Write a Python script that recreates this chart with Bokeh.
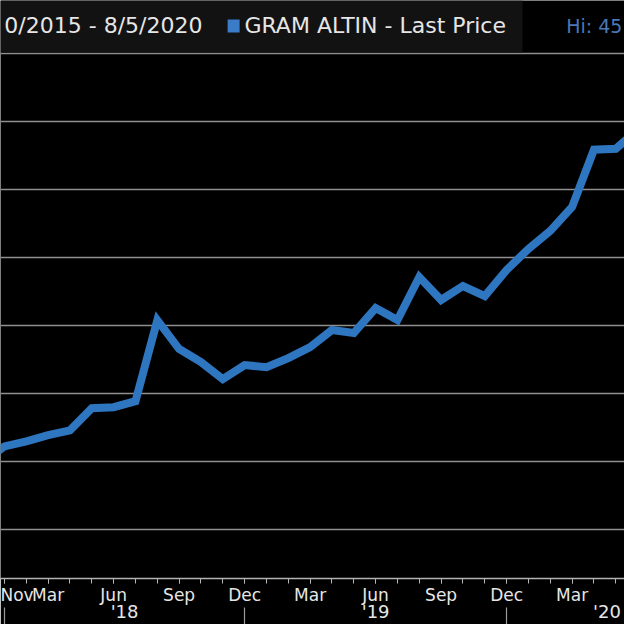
from bokeh.plotting import figure
from bokeh.models import Range1d, FixedTicker, LinearAxis, BoxAnnotation, Label
from bokeh.embed import file_html
from bokeh.resources import INLINE

# ---- data (month index, price) ----
month_idx = list(range(-1, 30))
prices = [149.0, 161.1, 164.8, 169.3, 172.9, 189.2, 189.9, 194.3, 254.0, 232.7,
          223.1, 210.5, 220.9, 219.4, 226.0, 234.1, 246.7, 244.5, 262.9, 254.0,
          285.7, 268.8, 279.1, 271.7, 290.9, 306.4, 319.6, 337.3, 379.4, 380.1,
          394.1]

quarter_ticks = [0, 2, 5, 8, 11, 14, 17, 20, 23, 26, 29]
quarter_labels = ["Nov", "Mar", "Jun", "Sep", "Dec", "Mar", "Jun", "Sep", "Dec", "Mar", "Jun"]
year_ticks = [5.5, 17, 27.6]
year_labels = ["'18", "'19", "'20"]
year_breaks = [0, 11, 23]
grid_values = [100, 150, 200, 250, 300, 350, 400, 450]

FONT = "DejaVu Sans"
TXT = "#e6e6e6"
GRID = "#8f8f8f"
BLUE = "#2f76c1"

p = figure(width=624, height=624,
           x_range=Range1d(-0.183, 28.40), y_range=Range1d(63.84, 489.2),
           output_backend="svg", toolbar_location=None,
           background_fill_color="black", border_fill_color="black",
           outline_line_color=None, min_border=0)

p.yaxis.visible = False
p.xgrid.visible = False
p.ygrid.ticker = FixedTicker(ticks=grid_values)
p.ygrid.grid_line_color = GRID
p.ygrid.grid_line_width = 1.6

p.line(month_idx, prices, line_color=BLUE, line_width=8, line_join="miter")

# month axis
xa = p.xaxis[0]
xa.ticker = FixedTicker(ticks=quarter_ticks, minor_ticks=month_idx)
xa.major_label_overrides = {t: l for t, l in zip(quarter_ticks, quarter_labels)}
xa.axis_line_color = "#b4b4b4"
xa.axis_line_width = 1.6
xa.major_tick_line_color = "#b4b4b4"
xa.minor_tick_line_color = "#b4b4b4"
xa.major_tick_in = -5
xa.major_tick_out = 0
xa.minor_tick_in = -5
xa.minor_tick_out = 0
xa.major_label_text_color = TXT
xa.major_label_text_font = FONT
xa.major_label_text_font_size = "17px"
xa.major_label_standoff = 6

# year axis (labels + year separators as minor ticks)
ya = LinearAxis(ticker=FixedTicker(ticks=year_ticks, minor_ticks=year_breaks))
ya.major_label_overrides = {t: l for t, l in zip(year_ticks, year_labels)}
ya.axis_line_color = None
ya.major_tick_line_color = None
ya.major_tick_in = 0
ya.major_tick_out = 0
ya.minor_tick_in = -30
ya.minor_tick_out = 0
ya.minor_tick_line_color = "#9a9a9a"
ya.minor_tick_line_width = 1.2
ya.major_label_text_color = TXT
ya.major_label_text_font = FONT
ya.major_label_text_font_size = "18px"
ya.major_label_standoff = -7
p.add_layout(ya, "below")

# header legend bar
p.add_layout(BoxAnnotation(right=23.73, bottom=450.9, fill_color="#121212",
                           fill_alpha=1, line_color=None, level="overlay"))
p.add_layout(BoxAnnotation(left=10.22, right=10.77, bottom=465.6, top=475.2,
                           fill_color="#3a7cc7", fill_alpha=1, line_color=None,
                           level="overlay"))
p.add_layout(Label(x=9.07, y=470.8, text="0/2015 - 8/5/2020", text_align="right",
                   text_baseline="middle", text_color=TXT, text_font=FONT,
                   text_font_size="22px", level="overlay"))
p.add_layout(Label(x=10.99, y=470.8, text="GRAM ALTIN - Last Price", text_align="left",
                   text_baseline="middle", text_color=TXT, text_font=FONT,
                   text_font_size="22px", level="overlay"))
p.add_layout(Label(x=28.30, y=470.8, text="Hi: 45", text_align="right",
                   text_baseline="middle", text_color="#4a78b8", text_font=FONT,
                   text_font_size="19px", level="overlay"))

open("out.html", "w").write(file_html(p, INLINE))
